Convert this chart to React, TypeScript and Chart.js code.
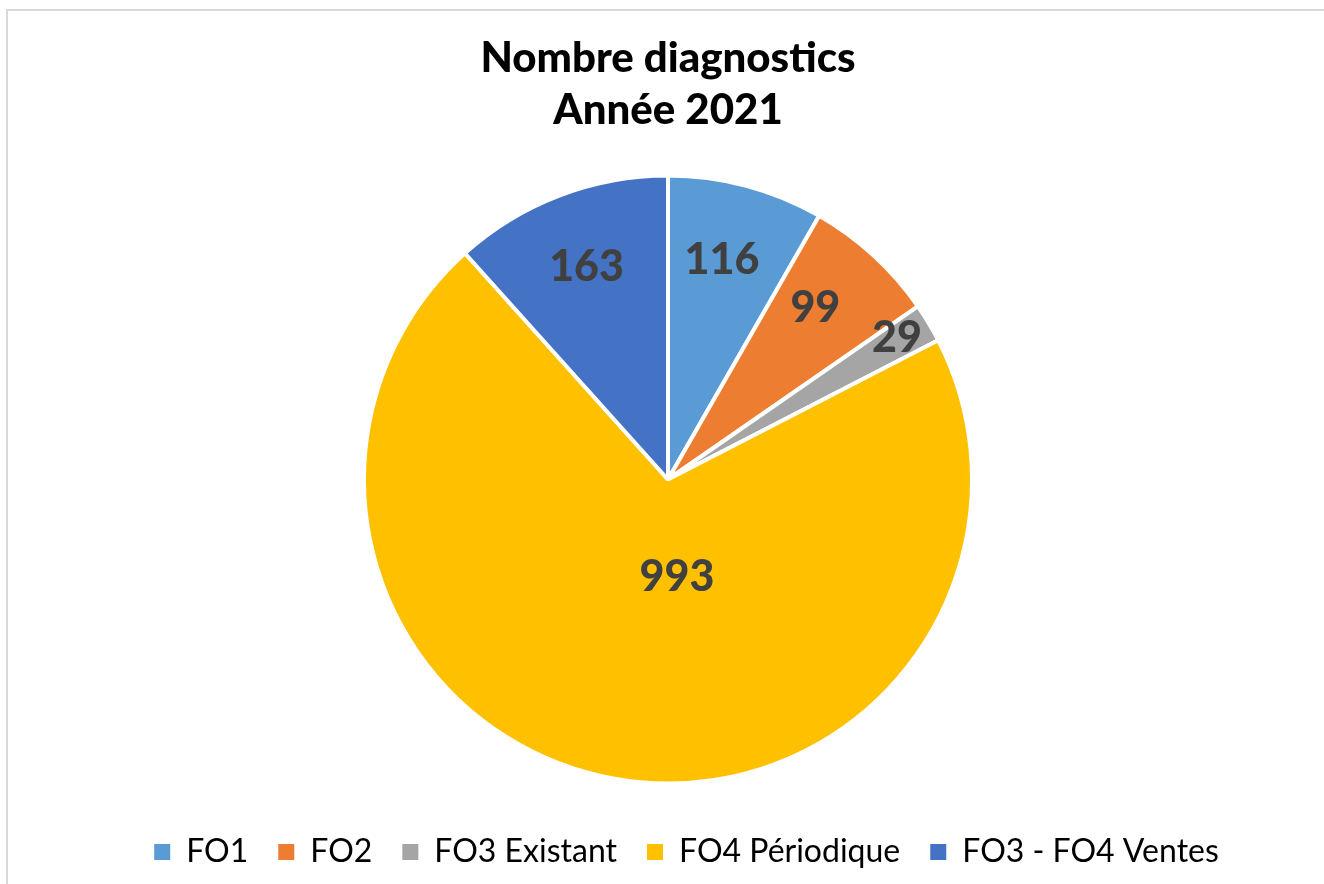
import React, { useEffect, useRef } from "react";
import { Chart, registerables } from "chart.js";

Chart.register(...registerables);

const categories = ["FO1", "FO2", "FO3 Existant", "FO4 Périodique", "FO3 - FO4 Ventes"];
const values = [116, 99, 29, 993, 163];
const colors = ["#5B9BD5", "#ED7D31", "#A5A5A5", "#FFC000", "#4472C4"];
const titleLines = ["Nombre diagnostics", "Année 2021"];
// label placement: fraction of radius, angular shift (degrees)
const labelRadiusFrac = [0.744, 0.744, 0.885, 0.321, 0.749];
const labelShiftDeg = [-1.1, -1.9, -0.7, -15.7, 0];

const FONT = "Lato, 'Open Sans', sans-serif";

const valueLabels = {
  id: "valueLabels",
  afterDatasetsDraw(chart: any) {
    const meta = chart.getDatasetMeta(0);
    const ctx = chart.ctx;
    ctx.save();
    ctx.font = `900 43px ${FONT}`;
    ctx.fillStyle = "#404040";
    ctx.textAlign = "center";
    ctx.textBaseline = "middle";
    meta.data.forEach((arc: any, i: number) => {
      const p = arc.getProps(["x", "y", "startAngle", "endAngle", "outerRadius"], true);
      const mid = (p.startAngle + p.endAngle) / 2 + (labelShiftDeg[i] * Math.PI) / 180;
      const r = p.outerRadius * labelRadiusFrac[i];
      ctx.fillText(String(values[i]), p.x + Math.cos(mid) * r, p.y + Math.sin(mid) * r);
    });
    ctx.restore();
  },
};

export default function App() {
  const ref = useRef<HTMLCanvasElement | null>(null);
  useEffect(() => {
    if (!ref.current) return;
    const chart = new Chart(ref.current, {
      type: "pie",
      data: {
        labels: categories,
        datasets: [
          {
            data: values,
            backgroundColor: colors,
            borderColor: "#FFFFFF",
            borderWidth: 4,
          },
        ],
      },
      options: {
        responsive: false,
        animation: false,
        radius: 304,
        layout: { padding: { left: 49, right: 0, top: 0, bottom: 0 } },
        plugins: {
          tooltip: { enabled: false },
          title: {
            display: true,
            text: titleLines,
            fullSize: false,
            color: "#000000",
            font: { family: FONT, size: 42, weight: "900", lineHeight: 1.226 },
            padding: { top: 33, bottom: 17 },
          },
          subtitle: {
            display: true,
            position: "right",
            text: "",
            fullSize: false,
            font: { size: 1, lineHeight: 1 },
            padding: 18,
          },
          legend: {
            position: "bottom",
            labels: {
              color: "#000000",
              font: { family: FONT, size: 32 },
              boxWidth: 16,
              boxHeight: 16,
              padding: 30,
              generateLabels: (c: any) =>
                (Chart as any).overrides.pie.plugins.legend.labels
                  .generateLabels(c)
                  .map((l: any) => ({ ...l, lineWidth: 0, strokeStyle: "rgba(0,0,0,0)" })),
            },
          },
        },
      } as any,
      plugins: [valueLabels],
    });
    return () => chart.destroy();
  }, []);

  return (
    <div style={{ position: "fixed", left: 0, top: 0, width: 1324, height: 884, overflow: "hidden", background: "#fff" }}>
      <canvas ref={ref} width={1324} height={878} style={{ position: "absolute", left: 0, top: 0, width: 1324, height: 878 }} />
      <div
        style={{
          position: "absolute",
          left: 6,
          top: 9,
          width: 1400,
          height: 1000,
          borderTop: "2px solid #D9D9D9",
          borderLeft: "2px solid #D9D9D9",
          pointerEvents: "none",
        }}
      />
    </div>
  );
}
